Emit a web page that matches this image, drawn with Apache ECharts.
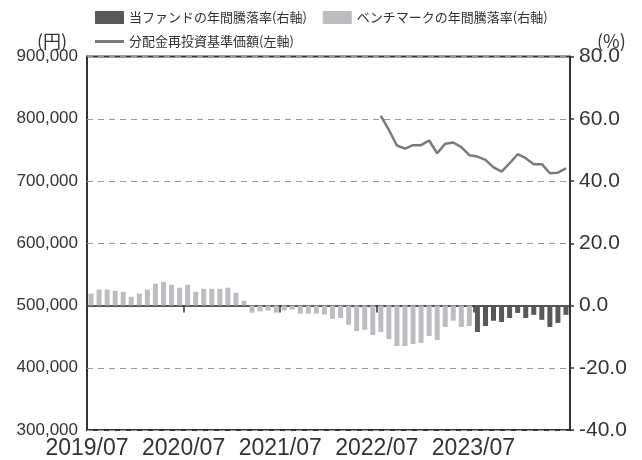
<!DOCTYPE html>
<html>
<head>
<meta charset="utf-8">
<script src="https://cdn.jsdelivr.net/npm/echarts@6/dist/echarts.min.js"></script>
<style>html,body{margin:0;padding:0;background:#fff;}#c{width:642px;height:460px;}</style>
</head>
<body>
<div id="c"></div>
<script>
var months = [
 '2019/07','2019/08','2019/09','2019/10','2019/11','2019/12','2020/01','2020/02','2020/03','2020/04','2020/05','2020/06',
 '2020/07','2020/08','2020/09','2020/10','2020/11','2020/12','2021/01','2021/02','2021/03','2021/04','2021/05','2021/06',
 '2021/07','2021/08','2021/09','2021/10','2021/11','2021/12','2022/01','2022/02','2022/03','2022/04','2022/05','2022/06',
 '2022/07','2022/08','2022/09','2022/10','2022/11','2022/12','2023/01','2023/02','2023/03','2023/04','2023/05','2023/06',
 '2023/07','2023/08','2023/09','2023/10','2023/11','2023/12','2024/01','2024/02','2024/03','2024/04','2024/05','2024/06'
];
var xTickLabels = ['2019/07','2020/07','2021/07','2022/07','2023/07'];
var benchmarkReturn = [
 3.8, 5.1, 5.1, 4.7, 4.4, 2.8, 3.8, 5.1, 7.0, 7.6, 6.7, 5.7,
 6.7, 4.4, 5.4, 5.4, 5.4, 5.7, 4.1, 1.5, -2.3, -1.9, -1.6, -2.3,
 -1.6, -1.3, -2.6, -2.6, -2.6, -2.9, -4.3, -4.0, -6.2, -8.2, -7.8, -9.5,
 -8.5, -10.8, -13.0, -13.0, -12.4, -12.0, -9.8, -11.1, -6.9, -4.9, -6.9, -6.6,
 null, null, null, null, null, null, null, null, null, null, null, null
];
var fundReturn = [
 null, null, null, null, null, null, null, null, null, null, null, null,
 null, null, null, null, null, null, null, null, null, null, null, null,
 null, null, null, null, null, null, null, null, null, null, null, null,
 null, null, null, null, null, null, null, null, null, null, null, null,
 -8.5, -6.6, -4.9, -5.3, -4.0, -2.4, -4.0, -3.0, -4.6, -6.9, -5.6, -3.0
];
var navReinvested = [
 null, null, null, null, null, null, null, null, null, null, null, null,
 null, null, null, null, null, null, null, null, null, null, null, null,
 null, null, null, null, null, null, null, null, null, null, null, null,
 804800, 782000, 757000, 752000, 757600, 757600, 765000, 744600, 760000, 761800, 754400, 741500,
 739200, 733900, 722000, 715000, 728500, 743000, 736600, 727000, 727000, 712400, 713400, 720500
];
var seriesNames = ['当ファンドの年間騰落率(右軸)', 'ベンチマークの年間騰落率(右軸)', '分配金再投資基準価額(左軸)'];

var chart = echarts.init(document.getElementById('c'), null, {renderer: 'canvas'});
var numFont = "'Liberation Sans', Arial, sans-serif";
var jpFont = "'Noto Sans CJK JP', sans-serif";
var option = {
  animation: false,
  backgroundColor: '#ffffff',
  textStyle: {fontFamily: jpFont},
  grid: {left: 87, right: 72, top: 56.5, bottom: 30, show: true, borderColor: '#333', borderWidth: 2, backgroundColor: 'transparent'},
  legend: [
    {data: [seriesNames[0], seriesNames[1]], left: 95, top: 11, padding: 0, itemWidth: 29, itemHeight: 13, itemGap: 16,
     icon: 'rect', textStyle: {fontSize: 13, color: '#333', fontFamily: jpFont}},
    {data: [{name: seriesNames[2], icon: 'rect', itemStyle: {color: '#7a7a7c'}}], left: 95, top: 35, padding: 0,
     itemWidth: 29, itemHeight: 3, textStyle: {fontSize: 13, color: '#333', fontFamily: jpFont}}
  ],
  graphic: [
    {type: 'text', left: 37, top: 32, style: {text: '(円)', font: "18px 'Noto Sans CJK JP'", fill: '#333'}},
    {type: 'text', left: 597, top: 32, style: {text: '(%)', font: "18px 'Noto Sans CJK JP'", fill: '#333'}}
  ],
  xAxis: [
    {type: 'value', min: 0, max: 60, interval: 12, position: 'bottom',
     axisLine: {show: false, onZero: false}, axisTick: {show: false}, splitLine: {show: false},
     axisLabel: {margin: 7, fontSize: 23, color: '#333', fontFamily: numFont,
       showMinLabel: true, showMaxLabel: false,
       formatter: function (v) { var i = Math.round(v / 12); return xTickLabels[i] || ''; }}},
    {type: 'category', data: months, position: 'top', boundaryGap: true,
     axisLine: {show: true, onZero: true, onZeroAxisIndex: 1, lineStyle: {color: '#555', width: 2}},
     axisTick: {show: true, interval: 11, inside: true, length: 7, alignWithLabel: false, lineStyle: {color: '#333', width: 1.5}},
     axisLabel: {show: false}, splitLine: {show: false}}
  ],
  yAxis: [
    {type: 'value', min: 300000, max: 900000, interval: 100000, position: 'left',
     axisLine: {show: false}, axisTick: {show: false},
     splitLine: {show: true, lineStyle: {color: '#999', type: [6, 5], width: 1}},
     axisLabel: {margin: 9, fontSize: 17, color: '#333', fontFamily: numFont,
       formatter: function (v) { return String(v).replace(/\B(?=(\d{3})+(?!\d))/g, ','); }}},
    {type: 'value', min: -40, max: 80, interval: 20, position: 'right',
     axisLine: {show: false}, axisTick: {show: true, length: 4, lineStyle: {color: '#333', width: 1.5}},
     splitLine: {show: false},
     axisLabel: {margin: 9, fontSize: 21, color: '#333', fontFamily: numFont,
       formatter: function (v) { return v.toFixed(1); }}}
  ],
  series: [
    {name: seriesNames[1], type: 'bar', xAxisIndex: 1, yAxisIndex: 1, data: benchmarkReturn,
     barWidth: 5, barGap: '-100%', itemStyle: {color: '#bdbdc1'}, z: 2},
    {name: seriesNames[0], type: 'bar', xAxisIndex: 1, yAxisIndex: 1, data: fundReturn,
     barWidth: 5, barGap: '-100%', itemStyle: {color: '#58585b'}, z: 3},
    {name: seriesNames[2], type: 'line', xAxisIndex: 1, yAxisIndex: 0, data: navReinvested,
     symbol: 'none', connectNulls: false, lineStyle: {color: '#7a7a7c', width: 2.5}, itemStyle: {color: '#7a7a7c'}, z: 4}
  ]
};
chart.setOption(option);
</script>
</body>
</html>
